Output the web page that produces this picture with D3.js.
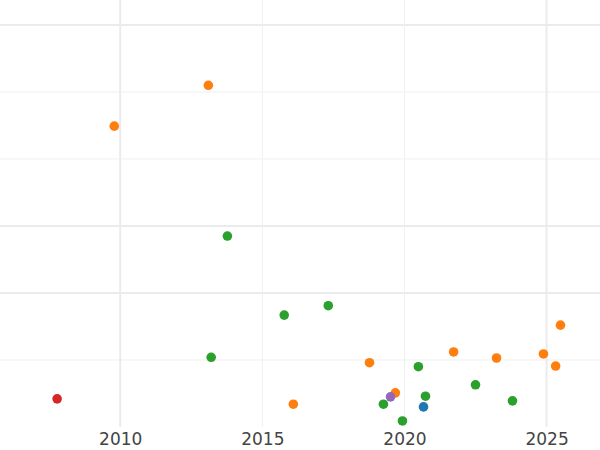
<!DOCTYPE html>
<html>
<head>
<meta charset="utf-8">
<script src="https://cdn.jsdelivr.net/npm/d3@7"></script>
<style>
body { margin: 0; background: #fff; }
text { font-family: "DejaVu Sans", sans-serif; }
</style>
</head>
<body>
<script>
// данные
var years = [2007.78, 2009.79, 2013.10, 2013.77, 2013.20, 2015.77, 2017.32, 2016.09, 2018.77, 2019.68, 2019.51, 2019.26, 2019.93, 2020.49, 2020.74, 2020.67, 2021.73, 2022.50, 2023.24, 2023.80, 2024.89, 2025.32, 2025.49];
var values = [0.42, 4.49, 5.10, 2.85, 1.04, 1.67, 1.81, 0.34, 0.96, 0.51, 0.45, 0.34, 0.09, 0.90, 0.46, 0.30, 1.12, 0.63, 1.03, 0.39, 1.09, 0.91, 1.52];
var groups = ["d", "b", "b", "c", "c", "c", "c", "b", "b", "b", "e", "c", "c", "c", "c", "a", "b", "c", "b", "c", "b", "b", "b"];
var xTicks = [2010, 2015, 2020, 2025];
var yGrid = [1, 2, 3, 4, 5, 6];

var width = 600, height = 450;
var plotBottom = 427;

var svg = d3.select("body").append("svg")
    .attr("width", width)
    .attr("height", height);

var x = d3.scaleLinear().domain([2005.77, 2026.88]).range([0, 600]);
var y = d3.scaleLinear().domain([0, 6.373]).range([plotBottom, 0]);
var color = d3.scaleOrdinal()
    .domain(["a", "b", "c", "d", "e"])
    .range(["#1f77b4", "#ff7f0e", "#2ca02c", "#d62728", "#9467bd"]);

// сетка: часть линий толще
var thickY = {1: false, 2: true, 3: true, 4: false, 5: false, 6: true};
svg.selectAll(".hgrid").data(yGrid).enter().append("line")
    .attr("x1", 0).attr("x2", width)
    .attr("y1", function(d) { return y(d); })
    .attr("y2", function(d) { return y(d); })
    .attr("stroke", function(d) { return thickY[d] ? "#ebebeb" : "#f0f0f0"; })
    .attr("stroke-width", function(d) { return thickY[d] ? 2 : 1; });

var thickX = {2010: true, 2015: false, 2020: false, 2025: true};
svg.selectAll(".vgrid").data(xTicks).enter().append("line")
    .attr("y1", 0).attr("y2", plotBottom)
    .attr("x1", function(d) { return x(d); })
    .attr("x2", function(d) { return x(d); })
    .attr("stroke", function(d) { return thickX[d] ? "#ebebeb" : "#f0f0f0"; })
    .attr("stroke-width", function(d) { return thickX[d] ? 2 : 1; });

var axis = svg.append("g")
    .attr("transform", "translate(0," + plotBottom + ")")
    .call(d3.axisBottom(x).tickValues(xTicks).tickFormat(d3.format("d")).tickSize(0).tickPadding(6));
axis.select(".domain").remove();
axis.selectAll("text").attr("font-size", 17).attr("fill", "#444");

svg.selectAll(".dot").data(years).enter().append("circle")
    .attr("cx", function(d) { return x(d); })
    .attr("cy", function(d, i) { return y(values[i]); })
    .attr("r", 4.8)
    .attr("fill", function(d, i) { return color(groups[i]); });
</script>
</body>
</html>
